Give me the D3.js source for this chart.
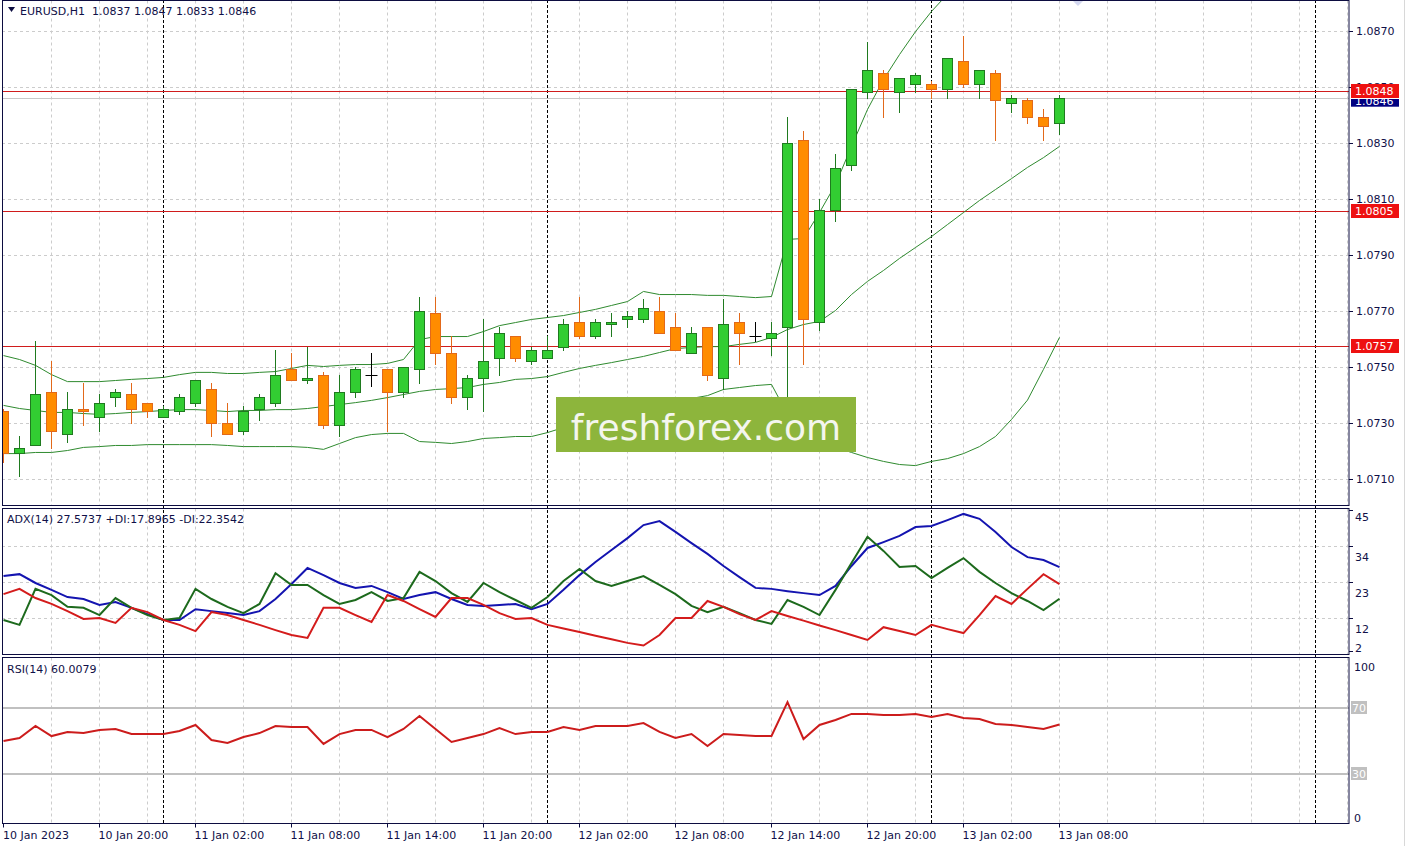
<!DOCTYPE html>
<html><head><meta charset="utf-8">
<script src="https://cdn.jsdelivr.net/npm/d3@7"></script>
<style>
body{margin:0;background:#fff;}
svg{display:block;}
text{font-family:"DejaVu Sans",sans-serif;white-space:pre;}
</style>
</head><body><svg id="c" width="1408" height="846"></svg>
<script>
// ---------------- DATA ----------------
const symbolTitle = "EURUSD,H1  1.0837 1.0847 1.0833 1.0846";
const adxTitle = "ADX(14) 27.5737 +DI:17.8965 -DI:22.3542";
const rsiTitle = "RSI(14) 60.0079";
const watermark = "freshforex.com";
const startTime = new Date(2023, 0, 10, 14, 0);

const opens  = [1.0734,1.0719,1.0722,1.0741,1.0726,1.0735,1.0732,1.0739,1.0740,1.0737,
                1.0732,1.0734,1.0737,1.0742,1.0730,1.0727,1.0735,1.0737,1.0749,1.0745,
                1.0747,1.0729,1.0741,1.0747,1.0749,1.0741,1.0749,1.0769,1.0755,1.0739,
                1.0746,1.0753,1.0761,1.0752,1.0753,1.0757,1.0766,1.0761,1.0765,1.0767,
                1.0767,1.0770,1.0764,1.0755,1.0764,1.0746,1.0766,1.0761,1.0760,1.0764,
                1.0831,1.0766,1.0806,1.0822,1.0848,1.0855,1.0848,1.0851,1.0851,1.0849,
                1.0859,1.0851,1.0855,1.0844,1.0845,1.0839,1.0837];
const highs  = [1.0735,1.0725,1.0759,1.0752,1.0741,1.0744,1.0740,1.0742,1.0744,1.0737,
                1.0736,1.0740,1.0745,1.0744,1.0737,1.0736,1.0740,1.0756,1.0755,1.0757,
                1.0748,1.0747,1.0750,1.0755,1.0749,1.0750,1.0775,1.0775,1.0761,1.0747,
                1.0767,1.0764,1.0761,1.0757,1.0761,1.0767,1.0775,1.0767,1.0769,1.0770,
                1.0774,1.0775,1.0769,1.0764,1.0764,1.0774,1.0769,1.0766,1.0766,1.0839,
                1.0834,1.0810,1.0826,1.0849,1.0866,1.0856,1.0853,1.0855,1.0852,1.0860,
                1.0868,1.0856,1.0856,1.0847,1.0846,1.0842,1.0847];
const lows   = [1.0716,1.0711,1.0722,1.0721,1.0723,1.0729,1.0727,1.0736,1.0730,1.0732,
                1.0732,1.0733,1.0736,1.0725,1.0726,1.0726,1.0731,1.0736,1.0745,1.0744,
                1.0728,1.0725,1.0739,1.0743,1.0727,1.0739,1.0744,1.0751,1.0737,1.0735,
                1.0734,1.0747,1.0752,1.0751,1.0753,1.0756,1.0760,1.0760,1.0761,1.0764,
                1.0766,1.0762,1.0756,1.0755,1.0745,1.0742,1.0751,1.0759,1.0754,1.0738,
                1.0751,1.0763,1.0802,1.0820,1.0846,1.0839,1.0841,1.0848,1.0846,1.0846,
                1.0850,1.0846,1.0831,1.0841,1.0837,1.0831,1.0833];
const closes = [1.0719,1.0721,1.0740,1.0727,1.0735,1.0734,1.0737,1.0741,1.0735,1.0734,
                1.0735,1.0739,1.0745,1.0730,1.0726,1.0734,1.0739,1.0747,1.0745,1.0746,
                1.0729,1.0741,1.0749,1.0747,1.0741,1.0750,1.0770,1.0755,1.0739,1.0746,
                1.0752,1.0762,1.0753,1.0756,1.0756,1.0765,1.0761,1.0766,1.0766,1.0768,
                1.0771,1.0762,1.0756,1.0762,1.0747,1.0765,1.0762,1.0761,1.0762,1.0830,
                1.0767,1.0806,1.0821,1.0849,1.0856,1.0849,1.0853,1.0854,1.0849,1.0860,
                1.0851,1.0856,1.0845,1.0846,1.0839,1.0836,1.0846];

const bbUpper  = [1.07539,1.07525,1.07504,1.07471,1.07446,1.07446,1.07446,1.07450,1.07454,1.07457,
                  1.07461,1.07471,1.07479,1.07479,1.07475,1.07475,1.07479,1.07482,1.07493,1.07504,
                  1.07500,1.07504,1.07507,1.07507,1.07511,1.07525,1.07596,1.07607,1.07607,1.07607,
                  1.07625,1.07646,1.07657,1.07668,1.07675,1.07682,1.07693,1.07704,1.07718,1.07732,
                  1.07768,1.07757,1.07757,1.07757,1.07754,1.07754,1.07750,1.07746,1.07750,1.07954,
                  1.07957,1.08050,1.08150,1.08286,1.08418,1.08525,1.08614,1.08696,1.08768,1.08830,
                  1.08860,1.08880,1.08890,1.08900,1.08900,1.08900,1.08890];
const bbMiddle = [1.07361,1.07350,1.07343,1.07336,1.07336,1.07332,1.07329,1.07332,1.07336,1.07339,
                  1.07343,1.07346,1.07346,1.07343,1.07339,1.07343,1.07343,1.07346,1.07346,1.07350,
                  1.07357,1.07364,1.07371,1.07379,1.07389,1.07400,1.07411,1.07418,1.07421,1.07425,
                  1.07436,1.07443,1.07454,1.07457,1.07464,1.07479,1.07493,1.07504,1.07514,1.07525,
                  1.07536,1.07550,1.07564,1.07568,1.07571,1.07571,1.07579,1.07586,1.07604,1.07632,
                  1.07650,1.07661,1.07700,1.07757,1.07804,1.07843,1.07886,1.07925,1.07964,1.08007,
                  1.08050,1.08093,1.08132,1.08171,1.08211,1.08246,1.08286];
const bbLower  = [1.07189,1.07189,1.07193,1.07193,1.07200,1.07211,1.07214,1.07218,1.07218,1.07221,
                  1.07221,1.07221,1.07221,1.07221,1.07218,1.07214,1.07214,1.07214,1.07214,1.07211,
                  1.07204,1.07225,1.07246,1.07257,1.07261,1.07261,1.07232,1.07229,1.07225,1.07232,
                  1.07243,1.07246,1.07250,1.07250,1.07264,1.07282,1.07296,1.07311,1.07325,1.07339,
                  1.07350,1.07364,1.07375,1.07386,1.07396,1.07418,1.07425,1.07432,1.07436,1.07329,
                  1.07268,1.07232,1.07211,1.07193,1.07175,1.07161,1.07150,1.07146,1.07161,1.07171,
                  1.07189,1.07214,1.07250,1.07311,1.07380,1.07490,1.07604];

const adxMain = [24.8,25.4,22.7,20.6,18.4,17.8,16.0,16.9,15.1,13.2,
                 11.4,11.4,14.7,14.1,13.5,12.9,14.1,17.8,22.4,27.3,
                 25.1,22.7,21.2,21.8,19.9,17.8,19.0,19.9,17.8,16.0,
                 15.7,16.0,16.3,14.7,16.3,20.6,25.1,29.1,32.8,36.4,
                 40.4,41.6,38.3,34.9,31.6,27.9,24.5,21.2,20.9,20.2,
                 19.6,19.0,21.8,27.9,33.4,35.2,37.1,39.8,40.1,41.9,
                 43.8,42.3,38.3,33.7,30.6,29.7,27.57];
const plusDI  = [11.4,9.9,20.9,19.0,15.4,15.1,12.9,18.1,15.1,12.9,
                 11.4,12.0,20.9,17.8,15.4,13.5,16.3,25.7,22.1,22.1,
                 19.0,16.3,17.5,19.9,17.2,18.1,26.1,23.3,19.6,16.9,
                 22.7,19.9,17.5,15.1,18.4,23.3,27.0,23.3,21.8,23.3,
                 24.8,22.1,19.3,15.7,13.8,15.4,13.5,11.4,10.2,17.5,
                 15.4,12.9,20.6,28.8,36.8,32.5,27.6,27.9,24.2,27.3,
                 30.3,26.1,22.7,19.6,17.2,14.4,17.90];
const minusDI = [19.3,20.9,18.1,16.3,14.1,11.7,12.0,10.5,15.1,13.8,
                 11.4,9.9,8.0,13.8,12.9,11.4,9.9,8.3,6.8,5.9,
                 15.1,15.1,12.9,10.8,19.0,17.2,14.7,12.3,18.1,18.1,
                 16.0,13.5,11.7,12.0,9.9,8.8,7.7,6.6,5.5,4.4,
                 3.6,6.8,12.0,12.0,17.2,15.4,13.2,11.4,14.1,12.6,
                 11.2,9.7,8.3,6.8,5.3,9.2,8.0,6.8,9.9,8.6,
                 7.4,12.9,18.7,16.3,20.9,25.4,22.35];

const rsiValues = [50.0,51.8,59.1,53.0,55.5,54.8,56.7,57.3,54.2,54.2,
                   54.2,56.1,59.7,50.6,48.8,52.4,54.8,59.1,58.5,58.5,
                   48.2,54.2,56.7,56.7,52.4,57.3,65.2,57.3,49.4,51.8,
                   54.2,57.9,54.2,55.5,55.5,58.5,56.7,59.1,59.1,59.1,
                   60.9,55.5,51.8,54.2,47.0,54.2,53.6,53.0,53.0,73.6,
                   51.2,59.7,62.7,66.4,66.4,65.8,65.8,66.4,64.5,66.4,
                   63.9,63.3,60.3,59.7,58.5,57.3,60.01];

const priceTicks = [1.0870,1.0850,1.0830,1.0810,1.0790,1.0770,1.0750,1.0730,1.0710];
const levelLines = [1.0848,1.0805,1.0757];
const bidPrice = 1.0846;
const adxTicks = [45,34,23,12,2];
const adxGrid = [34,23,12];
const rsiTicks = [100,0];
const rsiLevels = [70,30];
const timeLabels = ["10 Jan 2023","10 Jan 20:00","11 Jan 02:00","11 Jan 08:00","11 Jan 14:00","11 Jan 20:00",
                    "12 Jan 02:00","12 Jan 08:00","12 Jan 14:00","12 Jan 20:00","13 Jan 02:00","13 Jan 08:00"];

// ---------------- LAYOUT ----------------
const L = 2, R = 1349;
const mainP = {top:0.5, bottom:505.5};
const adxP  = {top:508.5, bottom:654.5};
const rsiP  = {top:657.5, bottom:823.5};
const navy = "#0c0c40";
const textCol = "#101048";
const bullFill = "#32cd32", bullStroke = "#1f7a1f";
const bearFill = "#ff8c00", bearStroke = "#e2691a";

const svg = d3.select("#c");
const H = 3600*1000;
const times = opens.map((d,i)=>new Date(+startTime + i*H));
const x = d3.scaleTime().domain([times[0], times[times.length-1]]).range([3.5, 1059.5]);
const y = d3.scaleLinear().domain([1.0870, 1.0710]).range([30.5, 478.5]);
const yA = d3.scaleLinear().domain([34, 12]).range([546, 618]);
const yR = d3.scaleLinear().domain([0, 100]).range([823.5, 658.5]);
const px = v => Math.round(v) + 0.5;
const vx = v => Math.floor(v) + 0.5;

// clip paths
const defs = svg.append("defs");
[["cMain",mainP],["cAdx",adxP],["cRsi",rsiP]].forEach(([id,p])=>{
  defs.append("clipPath").attr("id",id).append("rect")
    .attr("x",L).attr("y",p.top).attr("width",R-L).attr("height",p.bottom-p.top);
});
defs.append("clipPath").attr("id","cBid").append("rect")
  .attr("x",R+1).attr("y",Math.round(y(levelLines[0]))+7).attr("width",55).attr("height",10);

// grids (vertical every 3 hours)
const gridTimes = d3.range(3, 85, 3).map(k=>new Date(+startTime + k*H));
[mainP, adxP, rsiP].forEach(p=>{
  svg.append("g").selectAll("line").data(gridTimes).join("line")
    .attr("x1",d=>vx(x(d))).attr("x2",d=>vx(x(d)))
    .attr("y1",p.top).attr("y2",p.bottom)
    .attr("stroke","#cccccc").attr("stroke-dasharray","3,3");
});
// horizontal grids
svg.append("g").selectAll("line").data(priceTicks).join("line")
  .attr("x1",L).attr("x2",R).attr("y1",d=>px(y(d))).attr("y2",d=>px(y(d)))
  .attr("stroke","#cccccc").attr("stroke-dasharray","3,3");
svg.append("g").selectAll("line").data(adxGrid).join("line")
  .attr("x1",L).attr("x2",R).attr("y1",d=>px(yA(d))).attr("y2",d=>px(yA(d)))
  .attr("stroke","#cccccc").attr("stroke-dasharray","3,3");
// RSI levels
svg.append("g").selectAll("line").data(rsiLevels).join("line")
  .attr("x1",L).attr("x2",R).attr("y1",d=>Math.round(yR(d))).attr("y2",d=>Math.round(yR(d)))
  .attr("stroke","#c0c0c0").attr("stroke-width",2);

// day separators
const days = d3.timeDay.range(startTime, new Date(+startTime + 100*H));
svg.append("g").selectAll("line").data(days).join("line")
  .attr("x1",d=>vx(x(d))).attr("x2",d=>vx(x(d)))
  .attr("y1",0).attr("y2",rsiP.bottom)
  .attr("stroke","#000").attr("stroke-dasharray","3,2");

// ---------------- MAIN PANEL ----------------
const gm = svg.append("g").attr("clip-path","url(#cMain)");
gm.append("g").selectAll("line").data(levelLines).join("line")
  .attr("x1",L).attr("x2",R).attr("y1",d=>px(y(d))-1).attr("y2",d=>px(y(d))-1)
  .attr("stroke","#d01c1c");
gm.append("line").attr("x1",L).attr("x2",R).attr("y1",px(y(bidPrice))).attr("y2",px(y(bidPrice)))
  .attr("stroke","#c8c8c8");
const band = arr => d3.line().x((d,i)=>x(times[i])).y(d=>y(d))(arr);
[bbUpper,bbMiddle,bbLower].forEach(a=>{
  gm.append("path").attr("d",band(a)).attr("fill","none").attr("stroke","#2f8a2f").attr("stroke-width",1);
});
const bars = times.map((t,i)=>({t,o:opens[i],h:highs[i],l:lows[i],c:closes[i]}));
const cg = gm.append("g").selectAll("g").data(bars).join("g");
const col = d => d.o===d.c ? "#000" : (d.c>d.o ? bullStroke : bearStroke);
cg.append("line")
  .attr("x1",d=>x(d.t)).attr("x2",d=>x(d.t))
  .attr("y1",d=>Math.round(y(d.h))).attr("y2",d=>Math.round(y(d.l))+1)
  .attr("stroke",col);
cg.filter(d=>d.o!==d.c).append("rect")
  .attr("x",d=>x(d.t)-5).attr("width",10)
  .attr("y",d=>px(y(Math.max(d.o,d.c))))
  .attr("height",d=>Math.max(1, Math.round(y(Math.min(d.o,d.c))) - Math.round(y(Math.max(d.o,d.c)))))
  .attr("fill",d=>d.c>d.o?bullFill:bearFill)
  .attr("stroke",col);
cg.filter(d=>d.o===d.c).append("line")
  .attr("x1",d=>x(d.t)-6).attr("x2",d=>x(d.t)+6)
  .attr("y1",d=>px(y(d.o))).attr("y2",d=>px(y(d.o)))
  .attr("stroke","#000");

// watermark
svg.append("rect").attr("x",556).attr("y",397).attr("width",300).attr("height",55).attr("fill","#8db53c");
svg.append("text").attr("x",706).attr("y",440).attr("text-anchor","middle")
  .attr("font-size",36).attr("fill","#f4f6ee").text(watermark);

// shift marker
svg.append("path").attr("d","M1072,0 L1084,0 L1078,6 Z").attr("fill","#d4d8f0");

// ---------------- ADX PANEL ----------------
const ga = svg.append("g").attr("clip-path","url(#cAdx)");
const adxLine = arr => d3.line().x((d,i)=>x(times[i])).y(d=>yA(d))(arr);
ga.append("path").attr("d",adxLine(adxMain)).attr("fill","none").attr("stroke","#1414b0").attr("stroke-width",2);
ga.append("path").attr("d",adxLine(plusDI)).attr("fill","none").attr("stroke","#1d6a1d").attr("stroke-width",2);
ga.append("path").attr("d",adxLine(minusDI)).attr("fill","none").attr("stroke","#d41c1c").attr("stroke-width",2);

// ---------------- RSI PANEL ----------------
const gr = svg.append("g").attr("clip-path","url(#cRsi)");
gr.append("path").attr("d",d3.line().x((d,i)=>x(times[i])).y(d=>yR(d))(rsiValues))
  .attr("fill","none").attr("stroke","#cc1c1c").attr("stroke-width",2);

// ---------------- FRAMES ----------------
[mainP, adxP, rsiP].forEach(p=>{
  svg.append("rect").attr("x",L+0.5).attr("y",p.top).attr("width",R-L-0.5).attr("height",p.bottom-p.top)
    .attr("fill","none").attr("stroke",navy);
});

// ---------------- AXES ----------------
const pa = svg.append("g");
pa.selectAll("line").data(priceTicks).join("line")
  .attr("x1",R).attr("x2",R+4).attr("y1",d=>px(y(d))).attr("y2",d=>px(y(d))).attr("stroke",navy);
pa.selectAll("text").data(priceTicks).join("text")
  .attr("x",R+7).attr("y",d=>y(d)+4).attr("font-size",11).attr("fill",textCol)
  .text(d=>d.toFixed(4));
// bid box (partly hidden behind the first level box)
const bidG = svg.append("g").attr("clip-path","url(#cBid)");
bidG.append("rect").attr("x",R+2).attr("y",y(bidPrice)-4).attr("width",48).attr("height",13).attr("fill","#000080");
bidG.append("text").attr("x",R+6).attr("y",y(bidPrice)+7).attr("font-size",11).attr("fill","#fff").text(bidPrice.toFixed(4));
levelLines.forEach(v=>{
  svg.append("rect").attr("x",R+2).attr("y",Math.round(y(v))-8).attr("width",48).attr("height",14).attr("fill","#ee1111");
  svg.append("text").attr("x",R+6).attr("y",Math.round(y(v))+3).attr("font-size",11).attr("fill","#fff").text(v.toFixed(4));
});

// ADX axis
svg.append("g").selectAll("line").data(adxTicks).join("line")
  .attr("x1",R).attr("x2",R+4).attr("y1",d=>px(yA(d))).attr("y2",d=>px(yA(d))).attr("stroke",navy);
svg.append("g").selectAll("text").data(adxTicks).join("text")
  .attr("x",R+6).attr("font-size",11).attr("fill",textCol)
  .attr("y",d=> d===45 ? yA(d)+11 : (d===2 ? yA(d)+1 : yA(d)+15))
  .text(d=>d);

// RSI axis
svg.append("g").selectAll("text").data(rsiTicks).join("text")
  .attr("x",R+5).attr("font-size",11).attr("fill",textCol)
  .attr("y",d=> d===100 ? yR(d)+12 : yR(d)-2)
  .text(d=>d);
rsiLevels.forEach(v=>{
  svg.append("rect").attr("x",R+2).attr("y",Math.round(yR(v))-7).attr("width",16).attr("height",13).attr("fill","#c0c0c0");
  svg.append("text").attr("x",R+3).attr("y",Math.round(yR(v))+4).attr("font-size",11).attr("fill","#fff").text(v);
});

// time axis
const labelTimes = timeLabels.map((d,k)=>new Date(+startTime + 6*k*H));
svg.append("g").selectAll("line").data(labelTimes).join("line")
  .attr("x1",d=>vx(x(d))).attr("x2",d=>vx(x(d))).attr("y1",rsiP.bottom).attr("y2",rsiP.bottom+4).attr("stroke",navy);
svg.append("g").selectAll("text").data(timeLabels).join("text")
  .attr("x",(d,k)=>Math.max(3, x(labelTimes[k])-1)).attr("y",839).attr("font-size",11).attr("fill",textCol)
  .text(d=>d);

// titles
svg.append("path").attr("d","M8,7 L15,7 L11.5,12 Z").attr("fill",navy);
svg.append("text").attr("x",20).attr("y",15).attr("font-size",11).attr("fill",textCol).text(symbolTitle);
svg.append("text").attr("x",7).attr("y",523).attr("font-size",11).attr("fill",textCol).text(adxTitle);
svg.append("text").attr("x",7).attr("y",673).attr("font-size",11).attr("fill",textCol).text(rsiTitle);

svg.append("line").attr("x1",1404.5).attr("x2",1404.5).attr("y1",0).attr("y2",846).attr("stroke","#d8d8d8");
</script>
</body></html>
